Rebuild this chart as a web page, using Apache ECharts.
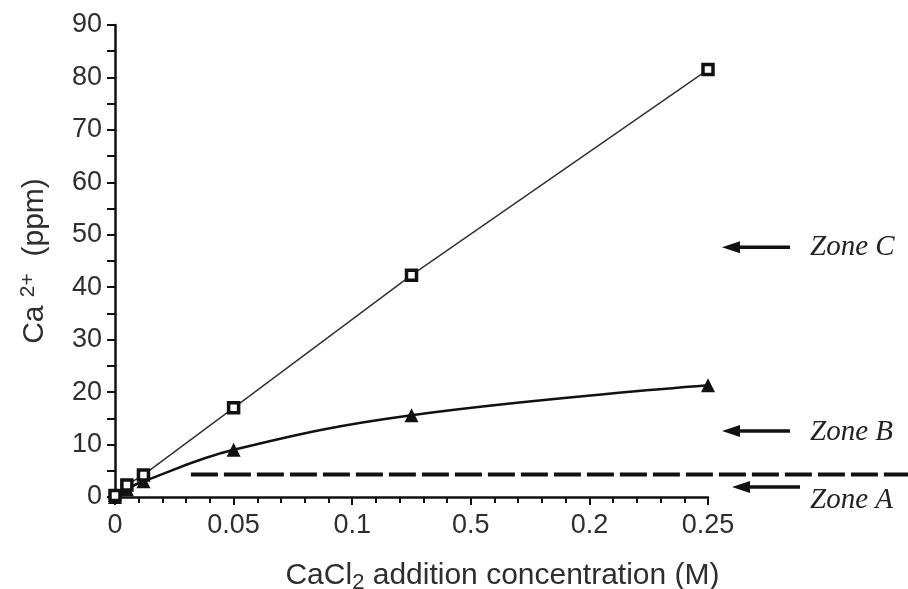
<!DOCTYPE html>
<html>
<head>
<meta charset="utf-8">
<script src="https://cdn.jsdelivr.net/npm/echarts@6/dist/echarts.min.js"></script>
<style>html,body{margin:0;padding:0;background:#fff}#c{width:908px;height:589px}</style>
</head>
<body>
<div id="c"></div>
<script>
// Data
const xSquares = [0, 0.005, 0.012, 0.05, 0.125, 0.25];
const ySquares = [0.3, 2.3, 4.2, 17, 42.3, 81.5];
const xTriangles = [0, 0.005, 0.012, 0.05, 0.125, 0.25];
const yTriangles = [0, 1.5, 3, 9, 15.6, 21.3];
const xTickLabels = ['0', '0.05', '0.1', '0.5', '0.2', '0.25'];
const xTickValues = [0, 0.05, 0.1, 0.15, 0.2, 0.25];
const zoneLabels = ['Zone C', 'Zone B', 'Zone A'];
const zoneArrowLevels = [47.6, 12.6, 1.9];
const zoneTextLevels = [47.6, 12.4, -0.6];
const thresholdLevel = 4.3;
const thresholdStartX = 0.032;

const chart = echarts.init(document.getElementById('c'));
const txt = '#2e2e2e';
const font = 'Liberation Sans, Arial, sans-serif';

const option = {
  animation: false,
  grid: { left: 115, right: 200, top: 25, bottom: 92, containLabel: false, outerBoundsMode: 'none' },
  xAxis: {
    type: 'value', min: 0, max: 0.25, interval: 0.05,
    name: 'CaCl{sub|2} addition concentration (M)',
    nameLocation: 'middle', nameGap: 61,
    nameTextStyle: { color: txt, fontSize: 30, fontFamily: font, padding: [0, 0, 0, 182],
      rich: { sub: { fontSize: 22, verticalAlign: 'bottom', padding: [14,0,0,0], color: txt, fontFamily: font } } },
    axisLine: { lineStyle: { color: '#111', width: 2.5 } },
    axisTick: { inside: false, length: 8, lineStyle: { color: '#111', width: 2 } },
    minorTick: { show: true, splitNumber: 5, length: 6, lineStyle: { color: '#111', width: 2 } },
    splitLine: { show: false },
    axisLabel: { color: txt, fontSize: 27, fontFamily: font, margin: 15,
      formatter: v => { const i = xTickValues.findIndex(t => Math.abs(t - v) < 1e-9); return i >= 0 ? xTickLabels[i] : ''; } }
  },
  yAxis: {
    type: 'value', min: 0, max: 90, interval: 10,
    name: 'Ca {sup|2+}  (ppm)',
    nameLocation: 'middle', nameGap: 64,
    nameTextStyle: { color: txt, fontSize: 30, fontFamily: font,
      rich: { sup: { fontSize: 21, verticalAlign: 'top', padding: [0,0,12,0], color: txt, fontFamily: font } } },
    axisLine: { show: true, lineStyle: { color: '#111', width: 2.5 } },
    axisTick: { show: true, length: 8, lineStyle: { color: '#111', width: 2 } },
    minorTick: { show: true, splitNumber: 2, length: 8, lineStyle: { color: '#111', width: 2 } },
    splitLine: { show: false },
    axisLabel: { color: txt, fontSize: 27, fontFamily: font, margin: 13 }
  },
  series: [
    {
      type: 'line', name: 'squares',
      data: xSquares.map((x, i) => [x, ySquares[i]]),
      symbol: 'rect', symbolSize: 10,
      itemStyle: { color: '#fff', borderColor: '#111', borderWidth: 3.5 },
      lineStyle: { color: '#333', width: 1.5 },
      z: 3
    },
    {
      type: 'line', name: 'triangles',
      data: xTriangles.map((x, i) => [x, yTriangles[i]]),
      smooth: 0.4,
      symbol: 'triangle', symbolSize: 14,
      itemStyle: { color: '#111' },
      lineStyle: { color: '#111', width: 2.5 },
      z: 2
    }
  ]
};
chart.setOption(option);

// Annotations (positions derived from the axes)
const gRightX = chart.convertToPixel({ gridIndex: 0 }, [0.25, 0])[0];
const dashStart = chart.convertToPixel({ gridIndex: 0 }, [thresholdStartX, thresholdLevel]);
const graphics = [{
  type: 'line',
  shape: { x1: dashStart[0], y1: dashStart[1], x2: 908, y2: dashStart[1] },
  style: { stroke: '#111', lineWidth: 4, lineDash: [27, 6] }
}];
zoneLabels.forEach((lab, i) => {
  const py = chart.convertToPixel({ gridIndex: 0 }, [0, zoneArrowLevels[i]])[1];
  const ty = chart.convertToPixel({ gridIndex: 0 }, [0, zoneTextLevels[i]])[1];
  const shift = i === 2 ? 10 : 0;
  const tip = gRightX + 14 + shift, tail = gRightX + 82 + shift;
  graphics.push({
    type: 'line', shape: { x1: tip + 12, y1: py, x2: tail, y2: py },
    style: { stroke: '#111', lineWidth: 3.5 }
  });
  graphics.push({
    type: 'polygon', shape: { points: [[tip, py], [tip + 18, py - 6], [tip + 18, py + 6]] },
    style: { fill: '#111' }
  });
  graphics.push({
    type: 'text', x: gRightX + 102, y: ty,
    style: { text: lab, font: 'italic 29px "Liberation Serif", "Times New Roman", serif', fill: '#222', verticalAlign: 'middle' }
  });
});
chart.setOption({ graphic: graphics });
</script>
</body>
</html>
